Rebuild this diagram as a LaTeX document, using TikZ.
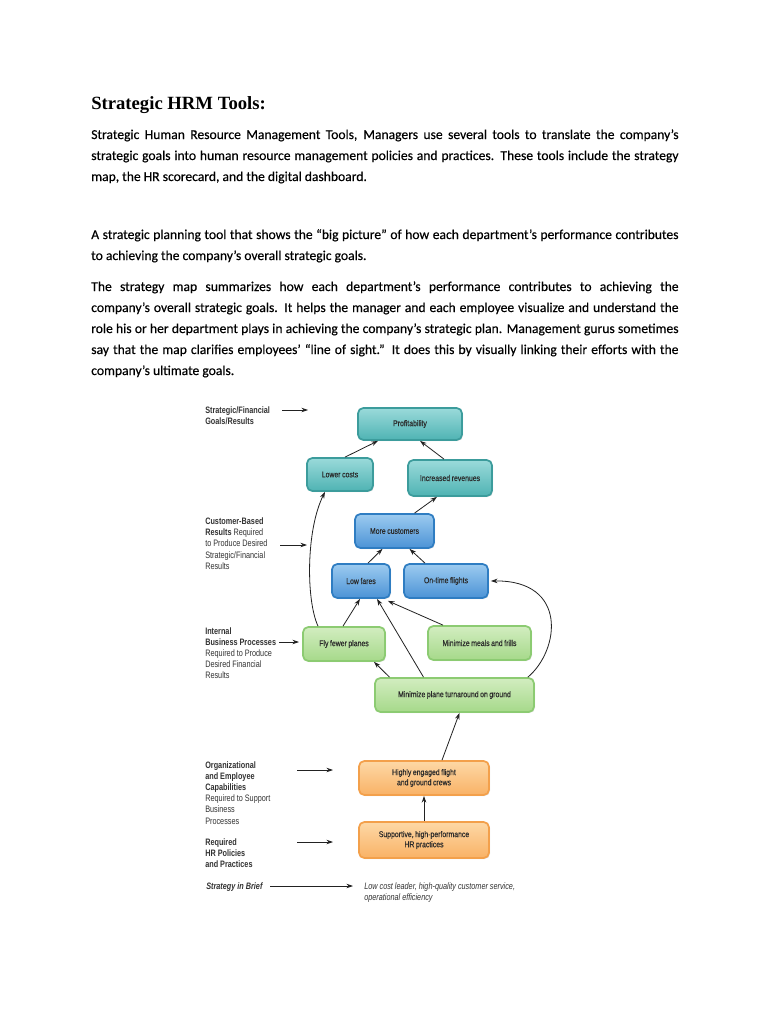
\documentclass[tikz,border=0pt]{standalone}
\usepackage{fontspec}
\setmainfont{Carlito}[FakeBold=0.35]
\newfontfamily\titlefont{Liberation Serif}
\newfontfamily\dfont[FakeStretch=0.82,WordSpace=0.82,FakeBold=0.3]{Liberation Sans}
\newfontfamily\lfont[FakeStretch=0.78,WordSpace=0.75]{Liberation Sans}
\usetikzlibrary{arrows.meta,calc,shadows}
\hyphenpenalty=10000
\exhyphenpenalty=10000
\newcommand{\setlabspace}{\spaceskip=1.5pt plus 0.5pt minus 0.2pt\relax}
\definecolor{tealT}{HTML}{9ADADA}
\definecolor{tealB}{HTML}{4FB3B3}
\definecolor{tealD}{HTML}{3C9C9C}
\definecolor{blueT}{HTML}{9CCBF0}
\definecolor{blueB}{HTML}{4C93D6}
\definecolor{blueD}{HTML}{2F7DC2}
\definecolor{greenT}{HTML}{D2EDC0}
\definecolor{greenB}{HTML}{A6D98A}
\definecolor{greenD}{HTML}{8CCB72}
\definecolor{orangeT}{HTML}{FDD8A6}
\definecolor{orangeB}{HTML}{F9B266}
\definecolor{orangeD}{HTML}{F3A04B}
\definecolor{txt}{HTML}{2A2A2A}
\definecolor{labc}{HTML}{333333}
\definecolor{arrc}{HTML}{222222}
\tikzset{
  boxbase/.style={draw, line width=1.3pt, rounded corners=4pt, align=center, inner sep=1pt,
    font=\dfont\fontsize{6.3}{7.6}\selectfont, text=txt,
    drop shadow={opacity=0.2, shadow xshift=0.8pt, shadow yshift=-0.8pt}},
  tealbox/.style={boxbase, draw=tealD, top color=tealT, bottom color=tealB},
  bluebox/.style={boxbase, draw=blueD, top color=blueT, bottom color=blueB},
  greenbox/.style={boxbase, draw=greenD, top color=greenT, bottom color=greenB},
  orangebox/.style={boxbase, draw=orangeD, top color=orangeT, bottom color=orangeB},
  wh/.style 2 args={minimum width=#1*0.75pt, minimum height=#2*0.75pt},
  arr/.style={-{Stealth[length=5pt,width=3.4pt]}, line width=0.6pt, draw=arrc},
  lab/.style={anchor=base west, inner sep=0, text width=110pt, align=left,
    font=\lfont\fontsize{7}{8.4}\selectfont, text=labc,
    execute at begin node=\setlabspace},
  body/.style={anchor=base west, inner sep=0, text width=440.5pt, align=justify,
    font=\fontsize{10.2}{15.75}\selectfont}
}
\begin{document}
\begin{tikzpicture}[x=0.75pt,y=-0.75pt]
\fill[white] (0,0) rectangle (768,1024);
\useasboundingbox (0,0) rectangle (768,1024);

% title and text
\node[anchor=base west, inner sep=0, font=\titlefont\bfseries\fontsize{14}{16}\selectfont] (title) at (91,109) {Strategic HRM Tools:};
\node[body] (p1) at (91,139) {Strategic Human Resource Management Tools, Managers use several tools to translate the company’s\linebreak strategic goals into human resource management policies and practices. These tools include the strategy\linebreak map, the HR scorecard, and the digital dashboard.};
\node[body] (p2) at (91,239) {A strategic planning tool that shows the “big picture” of how each department’s performance contributes\linebreak to achieving the company’s overall strategic goals.};
\node[body] (p3) at (91,291) {The strategy map summarizes how each department’s performance contributes to achieving the\linebreak company’s overall strategic goals. It helps the manager and each employee visualize and understand the\linebreak role his or her department plays in achieving the company’s strategic plan. Management gurus sometimes\linebreak say that the map clarifies employees’ “line of sight.” It does this by visually linking their efforts with the\linebreak company’s ultimate goals.};

% boxes
\node[tealbox, wh={104}{32}] (prof) at (410,424) {Profitability};
\node[tealbox, wh={66}{33}] (lc) at (340,474.5) {Lower costs};
\node[tealbox, wh={84}{36}] (ir) at (450,478) {Increased revenues};
\node[bluebox, wh={79}{34}] (mc) at (394.5,531) {More customers};
\node[bluebox, wh={58}{34}] (lf) at (361,581) {Low fares};
\node[bluebox, wh={84}{34}] (ot) at (446,581) {On-time flights};
\node[greenbox, wh={82}{34}] (ff) at (344,644) {Fly fewer planes};
\node[greenbox, wh={103}{34}] (mm) at (479.5,643) {Minimize meals and frills};
\node[greenbox, wh={159}{34}] (mt) at (454.5,695) {Minimize plane turnaround on ground};
\node[orangebox, wh={130}{34}] (he) at (424,778) {Highly engaged flight\\and ground crews};
\node[orangebox, wh={130}{36}] (sp) at (424,840) {Supportive, high-performance\\HR practices};

% connectors
\draw[arr] ($(lc.north)+(5,0)$) -- ($(prof.south)+(-32,0)$);
\draw[arr] ($(ir.north)+(-6,0)$) -- ($(prof.south)+(10,0)$);
\draw[arr] ($(mc.north)+(20,0)$) -- ($(ir.south)+(-13,0)$);
\draw[arr] ($(lf.north)+(7,0)$) -- ($(mc.south)+(-12,0)$);
\draw[arr] ($(ot.north)+(-21,0)$) -- ($(mc.south)+(15,0)$);
\draw[arr] ($(ff.north)+(-1,0)$) -- ($(lf.south)+(-1,0)$);
\draw[arr] ($(mt.north)+(-31,0)$) -- ($(lf.south)+(16,0)$);
\draw[arr] ($(mm.north)+(-36.5,0)$) -- ($(lf.south east)+(-3,2)$);
\draw[arr] ($(mt.north)+(-65,0)$) -- ($(ff.south)+(30,0)$);
\draw[arr] ($(he.north)+(18,0)$) -- ($(mt.south)+(5,0)$);
\draw[arr] (sp.north) -- (he.south);
\draw[arr] ($(ff.north)+(-26,0)$) .. controls (306,600) and (306,530) .. ($(lc.south)+(-15,0)$);
\draw[arr] ($(mt.north east)+(-7,0)$) .. controls (560,650) and (568,580) .. ($(ot.east)+(2,0)$);

% left labels
\node[lab] (l1) at (205,413) {\textbf{Strategic/Financial}\\\textbf{Goals/Results}};
\node[lab] (l2) at (205,524.5) {\textbf{Customer-Based}\\\textbf{Results} Required\\to Produce Desired\\Strategic/Financial\\Results};
\node[lab] (l3) at (205,634) {\textbf{Internal}\\\textbf{Business Processes}\\Required to Produce\\Desired Financial\\Results};
\node[lab] (l4) at (205,768) {\textbf{Organizational}\\\textbf{and Employee}\\\textbf{Capabilities}\\Required to Support\\Business\\Processes};
\node[lab] (l5) at (205,845) {\textbf{Required}\\\textbf{HR Policies}\\\textbf{and Practices}};
\node[lab] (l6) at (206,889) {\textbf{\itshape Strategy in Brief}};
\node[lab, text width=220pt] (l7) at (364,889) {\itshape Low cost leader, high-quality customer service,\\operational efficiency};

\coordinate (a1s) at (282,410); \coordinate (a1e) at (308,410);
\coordinate (a2s) at (280,545); \coordinate (a2e) at (307,545);
\coordinate (a3s) at (279,642); \coordinate (a3e) at (299,642);
\coordinate (a4s) at (297,770); \coordinate (a4e) at (333,770);
\coordinate (a5s) at (297,842); \coordinate (a5e) at (333,842);
\coordinate (a6s) at (270,886); \coordinate (a6e) at (353,886);
\draw[arr] (a1s) -- (a1e);
\draw[arr] (a2s) -- (a2e);
\draw[arr] (a3s) -- (a3e);
\draw[arr] (a4s) -- (a4e);
\draw[arr] (a5s) -- (a5e);
\draw[arr] (a6s) -- (a6e);
\end{tikzpicture}
\end{document}
